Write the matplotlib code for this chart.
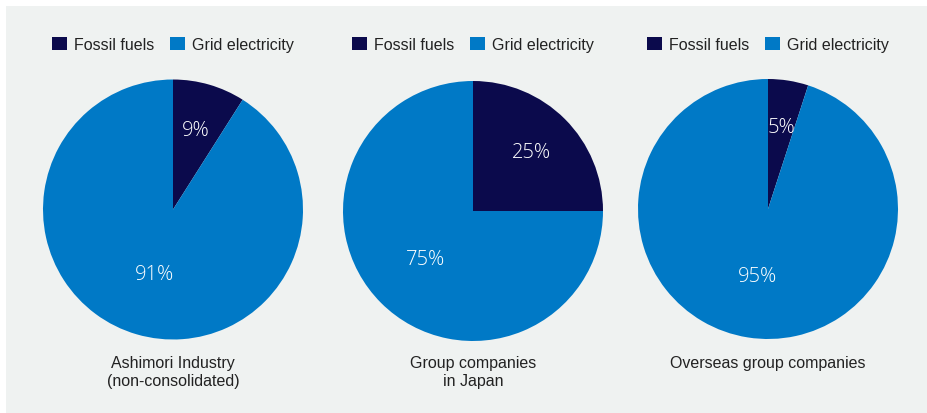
import matplotlib
matplotlib.use('Agg')
import matplotlib.pyplot as plt
import matplotlib.patches as mpatches
import numpy as np

# data
categories = ['Fossil fuels', 'Grid electricity']
group_names = ['Ashimori Industry\n(non-consolidated)',
               'Group companies\nin Japan',
               'Overseas group companies']
fossil_pct = [9, 25, 5]
grid_pct = [91, 75, 95]

# params
_colors = ['#0b0a4c', '#0079c6']
_bgcolor = '#eff2f1'
_textcolor = '#222222'
_W, _H = 928, 414
_radius = 130                           # [px]
_centers = [(173, 210.5), (473, 212), (768, 210)]   # [px], from top left
_labelr = [0.64, 0.52]                  # radial position of pct labels
_legend_y = 45.5
_caption_y = 356

plt.rcParams['font.family'] = ['Liberation Sans', 'DejaVu Sans']

fig = plt.figure(figsize=(_W / 100, _H / 100), dpi=100)
fig.patch.set_facecolor('white')

# grey panel behind everything
bgax = fig.add_axes([6 / _W, 0, 1 - 6 / _W, 1 - 7 / _H], zorder=-10)
bgax.set_facecolor(_bgcolor)
bgax.set_xticks([])
bgax.set_yticks([])
for sp in bgax.spines.values():
    sp.set_visible(False)

handles = [mpatches.Patch(facecolor=c, edgecolor='none') for c in _colors]

for i, (cx, cy) in enumerate(_centers):
    ax = fig.add_axes([(cx - _radius) / _W, (_H - cy - _radius) / _H,
                       2 * _radius / _W, 2 * _radius / _H])
    ax.patch.set_visible(False)
    vals = [fossil_pct[i], grid_pct[i]]
    wedges, _ = ax.pie(vals, colors=_colors, startangle=90, counterclock=False,
                       radius=1, wedgeprops=dict(linewidth=0))
    ax.set_xlim(-1, 1)
    ax.set_ylim(-1, 1)

    # percentage labels inside each wedge
    for w, v, r in zip(wedges, vals, _labelr):
        ang = np.deg2rad((w.theta1 + w.theta2) / 2)
        ax.text(r * np.cos(ang), r * np.sin(ang), f'{v}%',
                ha='center', va='center', color='white', fontsize=14.5,
                family=['Open Sans', 'DejaVu Sans'], fontweight='light')

    # legend above each pie
    fig.legend(handles, categories, loc='center', ncol=2,
               bbox_to_anchor=(cx / _W, 1 - _legend_y / _H),
               frameon=False, fontsize=11.5, handlelength=0.9,
               handleheight=0.9, handletextpad=0.45, columnspacing=1.0,
               labelcolor=_textcolor, borderpad=0, borderaxespad=0)

    # caption under each pie
    fig.text(cx / _W, 1 - _caption_y / _H, group_names[i],
             ha='center', va='top', fontsize=11.5, color=_textcolor,
             linespacing=1.25)

fig.savefig('out.png', dpi=100, facecolor=fig.get_facecolor())
